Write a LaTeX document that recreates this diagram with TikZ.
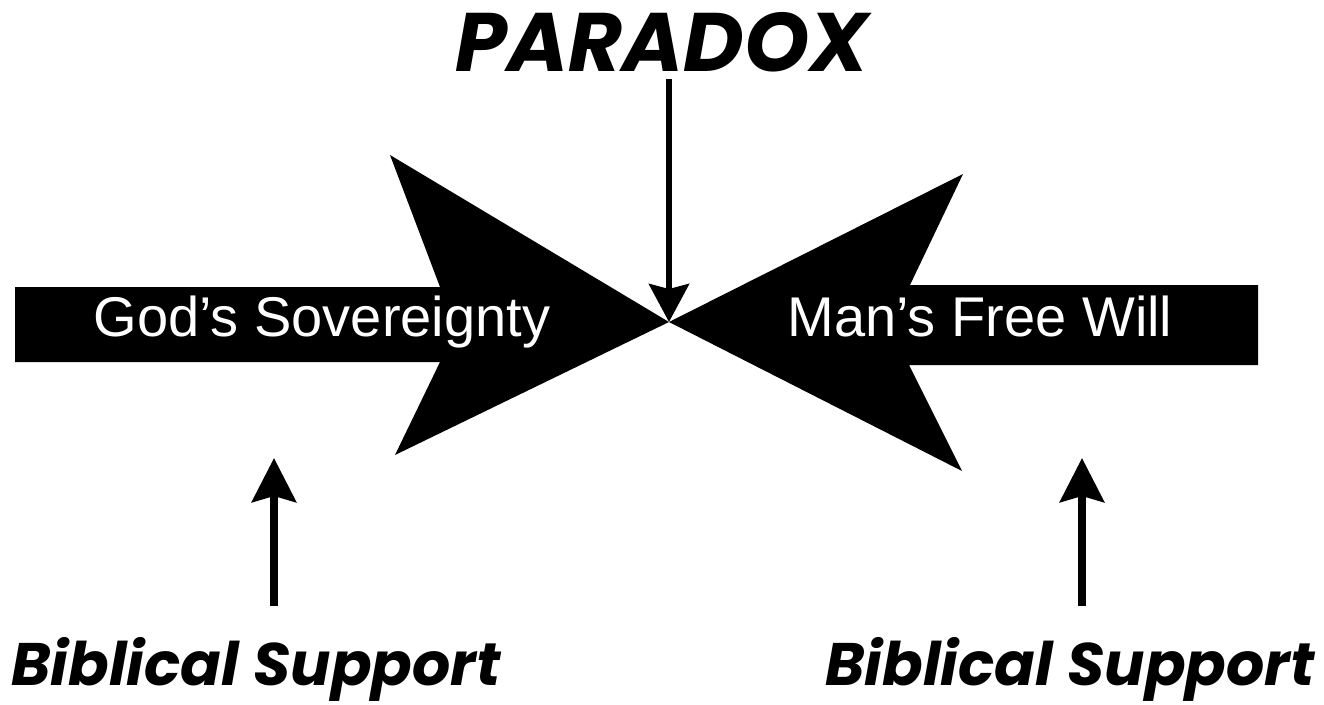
\documentclass[tikz,border=0pt]{standalone}
\usepackage{fontspec}
\setmainfont{Liberation Sans}
\newfontfamily\headfont{Poppins}
\usetikzlibrary{arrows.meta}
\begin{document}
\begin{tikzpicture}[x=1pt,y=-1pt,line join=round,
    heading/.style={font=\headfont\bfseries\itshape\fontsize{60}{60}\selectfont,inner sep=0pt,anchor=base},
    inlabel/.style={text=white,font=\fontsize{56}{56}\selectfont,inner sep=0pt,anchor=base},
    pointer/.style={-{Stealth[length=38pt,width=40pt,inset=5pt]},line width=6pt},
    support/.style={-{Stealth[length=44pt,width=44pt,inset=6pt]},line width=8pt}]
  \useasboundingbox (0,0) rectangle (1324,704);
  \coordinate (meet) at (669,322);
  % left arrow
  \fill (15,287) -- (440,287) -- (390,155) -- (meet) -- (395,455) -- (440,362) -- (15,362) -- cycle;
  % right arrow
  \fill (1258,285) -- (910,285) -- (963,174) -- (meet) -- (962,471) -- (909,365) -- (1258,365) -- cycle;
  \node[inlabel] (gods) at (322,336) {God’s Sovereignty};
  \node[inlabel] (mans) at (980,336) {Man’s Free Will};
  \node[heading,font=\headfont\bfseries\itshape\fontsize{83}{83}\selectfont] (paradox) at (662,71) {PARADOX};
  \node[heading] (bibL) at (256,685) {Biblical Support};
  \node[heading] (bibR) at (1070,685) {Biblical Support};
  \coordinate (supL) at (274,458);
  \coordinate (supR) at (1082,458);
  \draw[pointer,shorten <=7pt] (meet |- paradox.south) -- (meet);
  \draw[support,shorten <=31pt] (supL |- bibL.north) -- (supL);
  \draw[support,shorten <=31pt] (supR |- bibR.north) -- (supR);
\end{tikzpicture}
\end{document}
